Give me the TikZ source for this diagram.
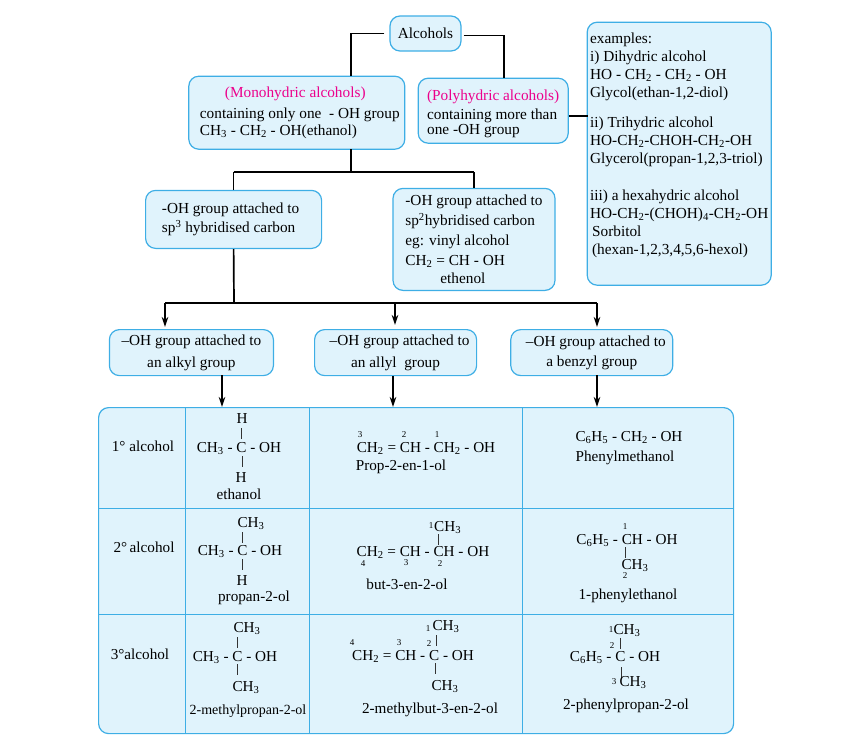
\documentclass[tikz,border=0pt]{standalone}
\usepackage{fontspec}
\setmainfont{Liberation Serif}
\usepackage{tikz}
\usetikzlibrary{positioning,arrows.meta}
\newcommand{\subs}[1]{\textsubscript{#1}}
\definecolor{boxfill}{RGB}{224,243,252}
\definecolor{boxline}{RGB}{62,174,229}
\definecolor{titlepink}{RGB}{236,0,140}

\begin{document}
\begin{tikzpicture}[
    x=1pt, y=-1pt,
    block/.style={rectangle, draw=boxline, fill=boxfill, line width=1.2pt, rounded corners=10pt, inner sep=0pt, align=left, font=\fontsize{15.3}{17}\selectfont},
    line/.style={-, line width=1.7pt},
    arrow/.style={-{Stealth[length=10pt,width=6.5pt]}, line width=1.4pt},
    cell/.style={anchor=base, inner sep=0pt, font=\fontsize{15.2}{17}\selectfont},
    chemname/.style={cell, font=\fontsize{15.2}{17}\selectfont},
    num/.style={cell, font=\fontsize{9}{10}\selectfont},
    bond/.style={rectangle, fill=black!80, inner sep=0pt, minimum width=1pt, minimum height=11pt},
    rule/.style={draw=boxline, line width=0.9pt}
]
\useasboundingbox (0,0) rectangle (857,737);

% upper part of the chart
\node[block, minimum width=71pt, minimum height=35pt] (alcohols) at (425.5,33.5) {Alcohols};
\node[block, below left=24pt and -16pt of alcohols, minimum width=216pt, minimum height=73pt] (mono) {\hspace*{31pt}\textcolor{titlepink}{(Monohydric alcohols)}\\[4pt]\hspace*{6pt}containing only one~~- OH group\\\hspace*{6pt}CH\subs{3} - CH\subs{2} - OH(ethanol)};
\node[block, below right=26pt and -44pt of alcohols, minimum width=150pt, minimum height=65pt] (poly) {\rule{0pt}{16pt}\textcolor{titlepink}{(Polyhydric alcohols)}\\[2pt]containing more than\\[-2pt]one -OH group};
\node[block, below right=-30pt and 125pt of alcohols, minimum width=184pt, minimum height=263pt, font=\fontsize{15.3}{18}\selectfont] (examples) {examples:\\i) Dihydric alcohol\\HO - CH\subs{2} - CH\subs{2} - OH\\Glycol(ethan-1,2-diol)\\[12pt]ii) Trihydric alcohol\\HO-CH\subs{2}-CHOH-CH\subs{2}-OH\\Glycerol(propan-1,2,3-triol)\\[19pt]iii) a hexahydric alcohol\\HO-CH\subs{2}-(CHOH)\subs{4}-CH\subs{2}-OH\\\hspace*{2pt}Sorbitol\\\hspace*{2pt}(hexan-1,2,3,4,5,6-hexol)\\[2pt]};

\node[block, below left=40pt and -134pt of mono, minimum width=176pt, minimum height=58pt] (spthree) {-OH group attached to\hspace*{6pt}\\[2pt]sp\textsuperscript{3} hybridised carbon};
\node[block, below right=38pt and -13pt of mono, minimum width=162pt, minimum height=102pt] (sptwo) {-OH group attached to\\[3pt]sp\textsuperscript{2}hybridised carbon\\[3pt]eg: vinyl alcohol\\[3pt]CH\subs{2} = CH - OH\\[1pt]\hspace*{35pt}ethenol};

\node[block, below left=80pt and -129pt of spthree, minimum width=164pt, minimum height=46pt, align=center] (alkyl) {--OH group attached to\\[5pt]an alkyl group};
\node[block, right=40pt of alkyl, minimum width=162pt, minimum height=46pt, align=center] (allyl) {\hspace*{8pt}--OH group attached to\\[5pt]an allyl~ group};
\node[block, right=33pt of allyl, minimum width=162pt, minimum height=46pt, align=center] (benzyl) {\hspace*{8pt}--OH group attached to\\[3pt]a benzyl group};

% table
\node[block, anchor=north west, minimum width=635pt, minimum height=326pt] (datatable) at (98,407) {};
\foreach \colx in {185,309,522}
    \draw[rule] (\colx,407) -- (\colx,733);
\foreach \rowy in {508,614}
    \draw[rule] (98,\rowy) -- (733,\rowy);

% connectors
\coordinate (busone) at (351,172);
\coordinate (bustwo) at (234,303);
\draw[line] ([xshift=-5pt]alcohols.west) -| (351,76);
\draw[line] ([xshift=2pt,yshift=-2pt]alcohols.east) -| (504,78);
\draw[line] (poly.east |- examples.west) ++(0,-38) -- ++(19,0);
\draw[line] (351,149) -- (busone);
\draw[line] (spthree.north |- busone) -- (sptwo.north |- busone);
\draw[line] (spthree.north |- busone) -- (spthree.north);
\draw[line] (sptwo.north |- busone) -- (sptwo.north);
\draw[line] (spthree.south) -- (bustwo);
\draw[line] (165,303) -- (597,303);
\draw[arrow] (165,303) -- (165,327);
\draw[arrow] (395,303) -- (395,325);
\draw[arrow] (597,303) -- (597,327);
\draw[arrow] (222,375) -- (222,407);
\draw[arrow] (393,376) -- (393,407);
\draw[arrow] (597,375) -- (597,407);

% first row
\node[cell] (rowone) at (143,451) {1° alcohol};
\node[cell] (ethH) at (242,423) {H};
\node[bond] (ethbondA) at (241,433) {};
\node[cell] (ethF) at (239,452) {CH\subs{3} - C - OH};
\node[bond] (ethbondB) at (242,461) {};
\node[cell] (ethHb) at (241,482) {H};
\node[chemname] (ethN) at (239,499) {ethanol};
\node[num] (propC) at (360,437) {3};
\node[num] (propB) at (404,437) {2};
\node[num] (propA) at (437,437) {1};
\node[cell] (propF) at (426,452) {CH\subs{2} = CH - CH\subs{2} - OH};
\node[chemname] (propN) at (401,470) {Prop-2-en-1-ol};
\node[cell] (phmF) at (629,441) {C\subs{6}H\subs{5} - CH\subs{2} - OH};
\node[chemname] (phmN) at (625,461) {Phenylmethanol};

% second row
\node[cell] (rowtwo) at (144,552) {2°\,alcohol};
\node[cell] (ipaT) at (251,527) {CH\subs{3}};
\node[bond] (ipabondA) at (242,537) {};
\node[cell] (ipaF) at (240,555) {CH\subs{3} - C - OH};
\node[bond] (ipabondB) at (242,564) {};
\node[cell] (ipaH) at (242,585) {H};
\node[chemname] (ipaN) at (254,601) {propan-2-ol};
\node[num] (buoA) at (431,528) {1};
\node[cell, anchor=base west] (buoT) at (434,531) {CH\subs{3}};
\node[bond] (buobond) at (438,539) {};
\node[cell] (buoF) at (423,556) {CH\subs{2} = CH - CH - OH};
\node[num] (buoD) at (363,566) {4};
\node[num] (buoC) at (406,565) {3};
\node[num] (buoB) at (440,566) {2};
\node[chemname] (buoN) at (407,589) {but-3-en-2-ol};
\node[num] (pheA) at (625,529) {1};
\node[cell] (pheF) at (627,544) {C\subs{6}H\subs{5} - CH - OH};
\node[bond] (phebond) at (625,552) {};
\node[cell] (pheT) at (635,569) {CH\subs{3}};
\node[num] (pheB) at (625,578) {2};
\node[chemname] (pheN) at (628,599) {1-phenylethanol};

% third row
\node[cell] (rowthree) at (140,659) {3°alcohol};
\node[cell] (tbaT) at (247,632) {CH\subs{3}};
\node[bond] (tbabondA) at (237,642) {};
\node[cell] (tbaF) at (235,661) {CH\subs{3} - C - OH};
\node[bond] (tbabondB) at (237,669) {};
\node[cell] (tbaB) at (246,691) {CH\subs{3}};
\node[cell, font=\fontsize{14}{16}\selectfont] (tbaN) at (248,714) {2-methylpropan-2-ol};
\node[num] (mboA) at (428,631) {1};
\node[cell] (mboT) at (446,630) {CH\subs{3}};
\node[num] (mboB) at (429,646) {2};
\node[bond] (mbobondA) at (436,640) {};
\node[num] (mboD) at (352,645) {4};
\node[num] (mboC) at (399,645) {3};
\node[cell] (mboF) at (413,660) {CH\subs{2} = CH - C - OH};
\node[bond] (mbobondB) at (435,668) {};
\node[cell] (mboE) at (445,690) {CH\subs{3}};
\node[chemname] (mboN) at (430,713) {2-methylbut-3-en-2-ol};
\node[num] (ppoA) at (611,632) {1};
\node[cell] (ppoT) at (627,634) {CH\subs{3}};
\node[num] (ppoB) at (612,648) {2};
\node[bond] (ppobondA) at (620,643) {};
\node[cell] (ppoF) at (615,661) {C\subs{6}H\subs{5} - C - OH};
\node[bond] (ppobondB) at (621,672) {};
\node[num] (ppoC) at (614,684) {3};
\node[cell] (ppoE) at (633,686) {CH\subs{3}};
\node[chemname] (ppoN) at (626,709) {2-phenylpropan-2-ol};
\end{tikzpicture}
\end{document}
